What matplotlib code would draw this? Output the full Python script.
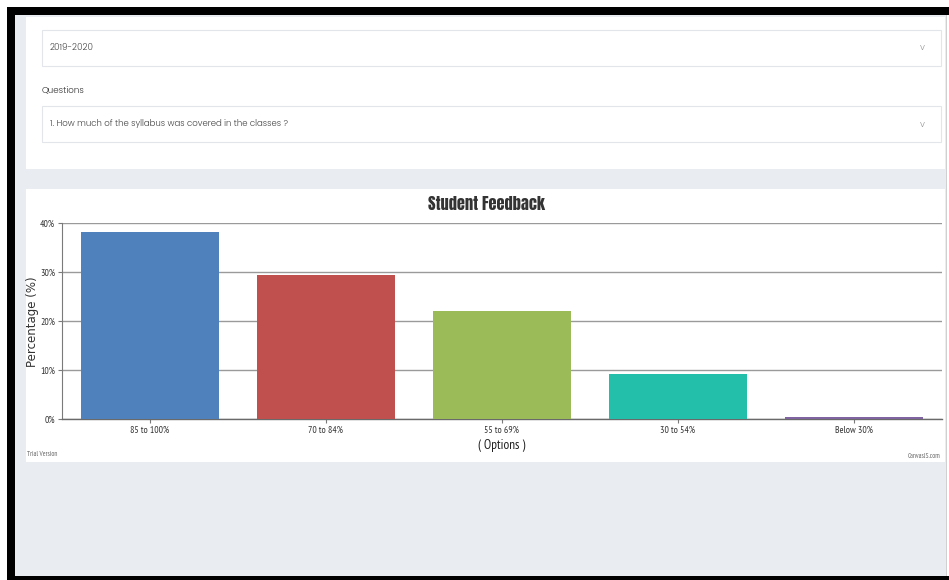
import matplotlib
matplotlib.use("Agg")
import matplotlib.pyplot as plt
from matplotlib.patches import Rectangle

# ---- data ----
categories = ["85 to 100%", "70 to 84%", "55 to 69%", "30 to 54%", "Below 30%"]
percentages = [38.2, 29.4, 22.1, 9.2, 0.4]
bar_colors = ["#4f81bc", "#c0504e", "#9bbb58", "#23bfaa", "#8064a1"]
y_ticks = [0, 10, 20, 30, 40]
y_tick_labels = ["0%", "10%", "20%", "30%", "40%"]
chart_title = "Student Feedback"
x_title = "( Options )"
y_title = "Percentage (%)"
year_text = "2019-2020"
questions_label = "Questions"
question_text = "1. How much of the syllabus was covered in the classes ?"

NARROW = ["PT Sans Narrow", "Roboto Condensed", "DejaVu Sans"]
TITLE = ["Anton", "Oswald", "DejaVu Sans"]
UI = ["Poppins", "DejaVu Sans"]
YLAB = ["DejaVu Sans"]

W, H = 949, 580
fig = plt.figure(figsize=(W / 100, H / 100), dpi=100)
fig.patch.set_facecolor("white")

def fx(x):
    return x / W

def fy(y):
    return 1 - y / H

def rect(x0, y0, x1, y1, color, z=0, ec="none", lw=0):
    fig.patches.append(Rectangle((fx(x0), fy(y1)), fx(x1) - fx(x0), fy(y0) - fy(y1),
                                 transform=fig.transFigure, facecolor=color,
                                 edgecolor=ec, linewidth=lw, zorder=z))

# page background / frame
gray = "#e9ecf1"
rect(7, 7, W, 15, "black", z=1)
rect(7, 7, 15, 580, "black", z=1)
rect(7, 576, W, 580, "black", z=1)
rect(15, 15, 946, 576, gray, z=1)
rect(945.5, 15, 946.5, 576, "#d0d0d0", z=1)
rect(26, 17, 945, 169, "white", z=2)
rect(26, 189, 945, 462, "white", z=2)

# dropdown boxes
rect(42, 30, 941, 66, "white", z=3, ec="#e2e5ea", lw=0.8)
rect(42, 106, 941, 142, "white", z=3, ec="#e2e5ea", lw=0.8)
fig.text(fx(50), fy(47), year_text, fontsize=6.3, color="#444444", va="center", ha="left",
         family=UI, fontweight=300, zorder=4)
fig.text(fx(922), fy(48), "v", fontsize=6.5, color="#999999", va="center", ha="center",
         family=UI, fontweight=300, zorder=4)
fig.text(fx(42), fy(90), questions_label, fontsize=6.3, color="#333333", va="center", ha="left",
         family=UI, fontweight=300, zorder=4)
fig.text(fx(50), fy(124), question_text, fontsize=6.2, color="#444444", va="center", ha="left",
         family=UI, fontweight=300, zorder=4)
fig.text(fx(922), fy(125), "v", fontsize=6.5, color="#999999", va="center", ha="center",
         family=UI, fontweight=300, zorder=4)

# chart axes
ax_left, ax_right = 62, 942
ax_top, ax_bottom = 223.3, 419.3
ax = fig.add_axes([fx(ax_left), fy(ax_bottom), fx(ax_right) - fx(ax_left),
                   (ax_bottom - ax_top) / H])
ax.set_zorder(5)
ax.patch.set_alpha(0)
x = list(range(len(categories)))
ax.bar(x, percentages, width=0.78, color=bar_colors, zorder=3)
ax.set_xlim(-0.5, len(categories) - 0.5)
ax.set_ylim(0, 40)
ax.set_yticks(y_ticks)
ax.set_yticklabels(y_tick_labels, family=NARROW, fontsize=7, color="#333333")
ax.set_xticks(x)
ax.set_xticklabels(categories, family=NARROW, fontsize=7, color="#333333")
ax.grid(axis="y", color="#9a9a9a", linewidth=1.0, zorder=0)
for s in ["top", "right"]:
    ax.spines[s].set_visible(False)
ax.spines["left"].set_color("#7a7a7a")
ax.spines["bottom"].set_color("#6a6a6a")
ax.spines["left"].set_linewidth(0.8)
ax.spines["bottom"].set_linewidth(1.0)
ax.tick_params(axis="both", length=3, width=0.8, color="#7a7a7a", pad=2)
ax.set_xlabel(x_title, family=NARROW, fontsize=9.5, color="#222222", labelpad=3)
ax.set_ylabel(y_title, family=YLAB, fontsize=8.5, color="#333333")
ax.yaxis.set_label_coords(-0.026, 0.5)

fig.text(fx(487), fy(204), chart_title, fontsize=11.8, family=TITLE,
         color="#333333", ha="center", va="center", zorder=6)
fig.text(fx(27), fy(454), "Trial Version", fontsize=5, color="#666666", family=NARROW,
         ha="left", va="center", zorder=6)
fig.text(fx(940), fy(457), "CanvasJS.com", fontsize=5, color="#666666", family=NARROW,
         ha="right", va="center", zorder=6)

fig.savefig("out.png", dpi=100)
